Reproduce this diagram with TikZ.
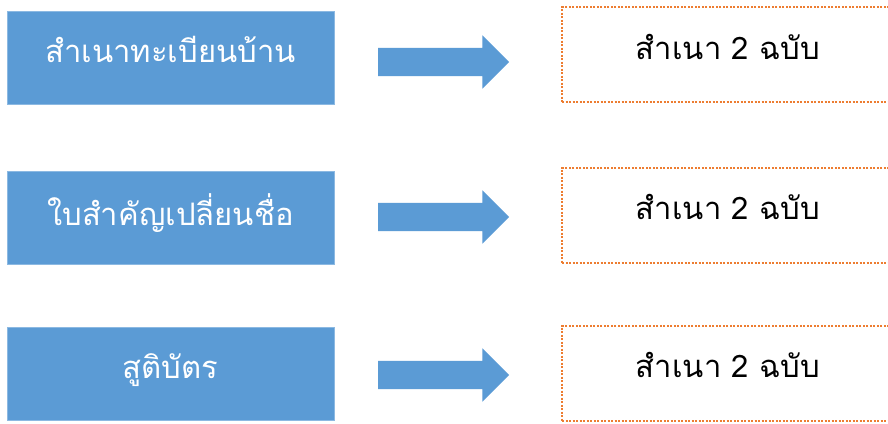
\documentclass[tikz,border=0pt]{standalone}
\usepackage{fontspec}
\newfontfamily\thaifont[Script=Thai]{Loma}
\usepackage{tikz}
\usetikzlibrary{shapes,arrows,positioning}
\definecolor{docblue}{HTML}{5B9BD5}
\definecolor{dotorange}{HTML}{ED7D31}
\tikzstyle{doc} = [rectangle, sharp corners, fill=docblue, draw=docblue!70,
                   minimum width=327pt, minimum height=93pt, inner sep=0pt,
                   text depth=16pt, text=white,
                   font=\thaifont\fontsize{31}{36}\selectfont]
\tikzstyle{copies} = [rectangle, draw=dotorange, line width=2pt,
                      dash pattern=on 2pt off 1.5pt,
                      minimum width=340pt, minimum height=95pt, inner sep=0pt,
                      text depth=16pt, font=\thaifont\fontsize{31}{36}\selectfont]
\tikzstyle{goes} = [single arrow, fill=docblue, draw=none,
                    inner xsep=0pt, inner ysep=14pt,
                    minimum height=131pt,
                    single arrow head extend=12.5pt, single arrow head indent=0pt]

\begin{document}
\begin{tikzpicture}[x=1pt,y=-1pt]
\clip (0,0) rectangle (888,423);
\fill[white] (0,0) rectangle (888,423);
%Row 1
\node[doc] at (170.5,57.5) (doc1){สำเนาทะเบียนบ้าน};
\node[goes] at (436.5,62) (arr1){};
\node[copies] at (732,54.5) (copy1){\hspace*{-8pt}สำเนา 2 ฉบับ};

%Row 2
\node[doc] at (170.5,218) (doc2){ใบสำคัญเปลี่ยนชื่อ};
\node[goes] at (436.5,217) (arr2){};
\node[copies] at (732,215) (copy2){\hspace*{-8pt}สำเนา 2 ฉบับ};

%Row 3
\node[doc] at (170.5,374) (doc3){สูติบัตร};
\node[goes] at (436.5,375) (arr3){};
\node[copies] at (732,373) (copy3){\hspace*{-8pt}สำเนา 2 ฉบับ};
\end{tikzpicture}
\end{document}
